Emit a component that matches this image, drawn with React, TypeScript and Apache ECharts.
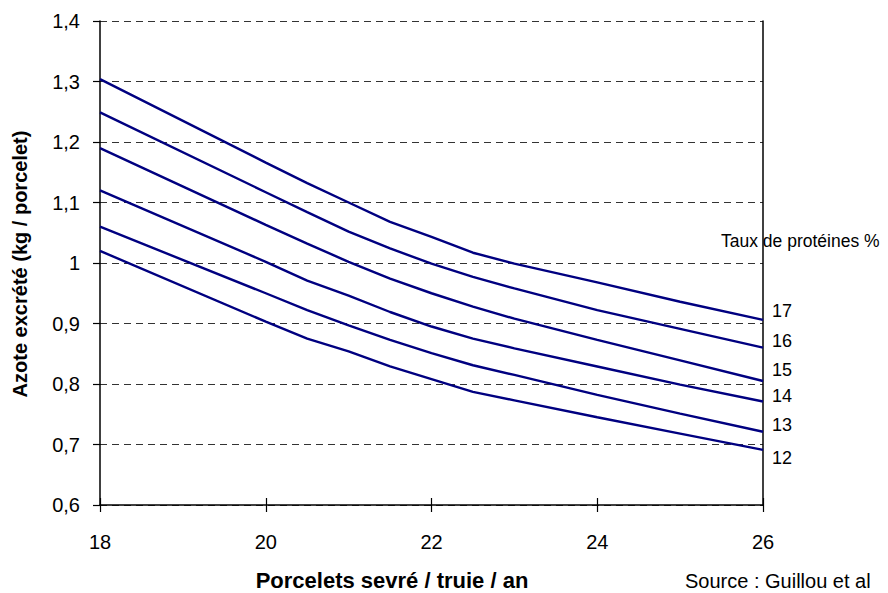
import React, { useEffect, useRef } from "react";
import * as echarts from "echarts";

const xValues = [18, 20, 20.5, 21, 21.5, 22, 22.5, 23, 24, 25, 26];
const seriesNames = ["17", "16", "15", "14", "13", "12"];
const p17 = [1.304, 1.166, 1.132, 1.1, 1.068, 1.043, 1.017, 0.999, 0.968, 0.936, 0.906];
const p16 = [1.249, 1.117, 1.084, 1.052, 1.024, 0.999, 0.977, 0.958, 0.922, 0.891, 0.86];
const p15 = [1.19, 1.063, 1.032, 1.002, 0.974, 0.95, 0.928, 0.908, 0.873, 0.839, 0.805];
const p14 = [1.12, 1.002, 0.971, 0.946, 0.919, 0.895, 0.875, 0.859, 0.829, 0.799, 0.771];
const p13 = [1.06, 0.95, 0.922, 0.897, 0.873, 0.851, 0.831, 0.815, 0.782, 0.751, 0.721];
const p12 = [1.02, 0.903, 0.875, 0.854, 0.829, 0.808, 0.787, 0.773, 0.745, 0.718, 0.691];
const seriesValues = [p17, p16, p15, p14, p13, p12];
const labelDy = [-9, -7, -11, -6, -7, 8];

const FONT = "'Liberation Sans', Arial, sans-serif";

export default function App() {
  const ref = useRef<HTMLDivElement>(null);
  useEffect(() => {
    if (!ref.current) return;
    const chart = echarts.init(ref.current, null, { renderer: "svg" });
    const fmtY = (v: number) => String(Number(v.toFixed(1))).replace(".", ",");
    chart.setOption({
      animation: false,
      backgroundColor: "#ffffff",
      grid: { left: 100, right: 125, top: 21, bottom: 88, containLabel: false },
      xAxis: [
        {
          type: "value",
          min: 18,
          max: 26,
          interval: 2,
          position: "bottom",
          axisLine: { show: true, onZero: false, lineStyle: { color: "#000", width: 1.5 } },
          axisTick: { show: true, inside: false, length: 7, lineStyle: { color: "#000", width: 1.2 } },
          axisLabel: { color: "#000", fontSize: 20, fontFamily: FONT, margin: 27 },
          splitLine: { show: false },
        },
        {
          type: "value",
          min: 18,
          max: 26,
          interval: 2,
          position: "bottom",
          axisLine: { show: false, onZero: false },
          axisTick: { show: true, inside: true, length: 7, lineStyle: { color: "#000", width: 1.2 } },
          axisLabel: { show: false },
          splitLine: { show: false },
        },
      ],
      yAxis: [
        {
          type: "value",
          min: 0.6,
          max: 1.4,
          interval: 0.1,
          position: "left",
          axisLine: { show: true, onZero: false, lineStyle: { color: "#000", width: 1.5 } },
          axisTick: { show: true, inside: false, length: 7, lineStyle: { color: "#000", width: 1.2 } },
          axisLabel: { color: "#000", fontSize: 20, fontFamily: FONT, margin: 20, formatter: fmtY },
          splitLine: { show: true, lineStyle: { color: "#333", type: [7, 5], width: 1.2 } },
        },
        {
          type: "value",
          min: 0.6,
          max: 1.4,
          interval: 0.1,
          position: "right",
          axisLine: { show: true, onZero: false, lineStyle: { color: "#000", width: 1.5 } },
          axisTick: { show: false },
          axisLabel: { show: false },
          splitLine: { show: false },
        },
      ],
      graphic: [
        {
          type: "text",
          x: 20,
          y: 264,
          rotation: Math.PI / 2,
          style: {
            text: "Azote excrété (kg / porcelet)",
            font: `bold 20px ${FONT}`,
            fill: "#000",
            textAlign: "center",
            textVerticalAlign: "middle",
          },
        },
        {
          type: "text",
          x: 392,
          y: 580,
          style: {
            text: "Porcelets sevré / truie / an",
            font: `bold 22px ${FONT}`,
            fill: "#000",
            textAlign: "center",
            textVerticalAlign: "middle",
          },
        },
        {
          type: "text",
          x: 685,
          y: 581,
          style: {
            text: "Source : Guillou et al",
            font: `20px ${FONT}`,
            fill: "#000",
            textAlign: "left",
            textVerticalAlign: "middle",
          },
        },
        {
          type: "text",
          x: 721,
          y: 241,
          style: {
            text: "Taux de protéines %",
            font: `17.5px ${FONT}`,
            fill: "#000",
            textAlign: "left",
            textVerticalAlign: "middle",
          },
        },
      ],
      series: seriesValues.map((vals, i) => ({
        name: seriesNames[i],
        type: "line",
        xAxisIndex: 0,
        yAxisIndex: 0,
        data: xValues.map((x, j) => [x, vals[j]]),
        showSymbol: false,
        symbol: "none",
        lineStyle: { color: "#000080", width: 2.4 },
        endLabel: {
          show: true,
          formatter: "{a}",
          distance: 9,
          offset: [0, labelDy[i]],
          color: "#000",
          fontSize: 18,
          fontFamily: FONT,
        },
        emphasis: { disabled: true },
      })),
    });
    return () => chart.dispose();
  }, []);
  return (
    <div
      ref={ref}
      style={{ position: "fixed", left: 0, top: 0, width: 888, height: 593, background: "#fff" }}
    />
  );
}
